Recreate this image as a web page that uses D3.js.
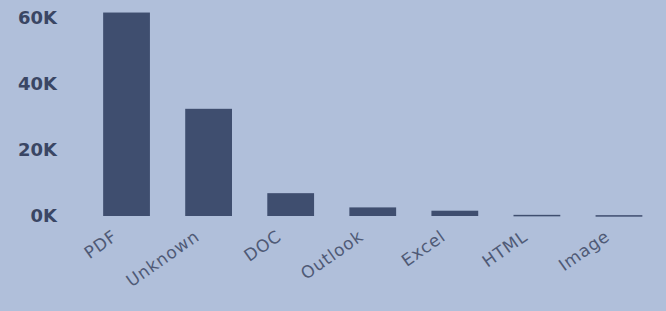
<!DOCTYPE html>
<html><head><meta charset="utf-8">
<script src="https://cdn.jsdelivr.net/npm/d3@7"></script>
<style>
html,body{margin:0;padding:0;background:#b0bfda;}
svg{display:block;}
</style></head>
<body><svg id="c" width="666" height="311"></svg>
<script>
const categories = ["PDF","Unknown","DOC","Outlook","Excel","HTML","Image"];
const values = [61500, 32400, 6900, 2600, 1600, 350, 250];
const yTicks = [0, 20000, 40000, 60000];
const yTickLabels = ["0K","20K","40K","60K"];

const svg = d3.select("#c");
const W = 666, H = 311;
svg.append("rect").attr("width",W).attr("height",H).attr("fill","#b0bfda");

const x = d3.scaleBand().domain(categories).range([85.5, 660]).paddingInner(0.43).paddingOuter(0.215);
const y = d3.scaleLinear().domain([0, 60000]).range([216, 17.5]);

svg.selectAll("rect.bar").data(categories).enter().append("rect")
  .attr("class","bar")
  .attr("x", d => x(d))
  .attr("width", x.bandwidth())
  .attr("y", (d,i) => y(values[i]))
  .attr("height", (d,i) => Math.max(1.5, y(0) - y(values[i])))
  .attr("fill", "#3f4e6f");

const yAxis = d3.axisLeft(y).tickValues(yTicks).tickFormat((d,i) => yTickLabels[i]).tickSize(0).tickPadding(0);
const ga = svg.append("g").attr("transform","translate(57,0)").call(yAxis);
ga.select(".domain").remove();
ga.selectAll("text").attr("font-family","'DejaVu Sans', sans-serif")
  .attr("font-weight","bold").attr("font-size","18px").attr("fill","#3a4664");

const xAxis = d3.axisBottom(x).tickSize(0).tickPadding(0);
const gx = svg.append("g").attr("transform","translate(0,216)").call(xAxis);
gx.select(".domain").remove();
gx.selectAll("text")
  .attr("font-family","'DejaVu Sans', sans-serif")
  .attr("font-size","17px").attr("fill","#4f5a76")
  .attr("letter-spacing","0.8px")
  .attr("text-anchor","end")
  .attr("dy","0")
  .attr("y", 0)
  .attr("transform","translate(-8,23) rotate(-35)");
</script></body></html>
